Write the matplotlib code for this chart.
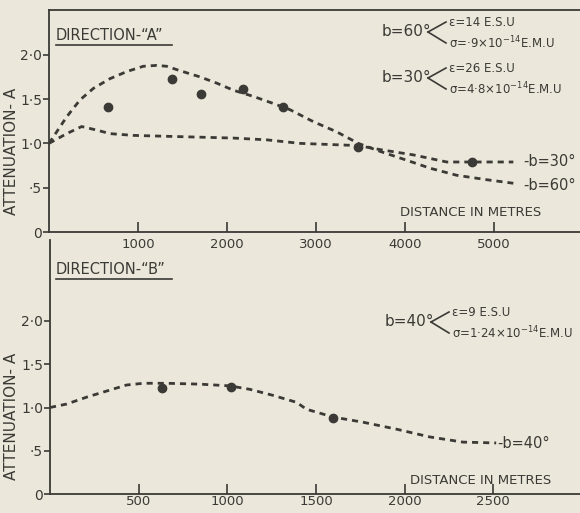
import matplotlib
matplotlib.use("Agg")
import matplotlib.pyplot as plt

plt.rcParams['font.family'] = ['DejaVu Sans']
plt.rcParams['mathtext.default'] = 'regular'

# direction A, b = 60 deg curve
a60_x = [0, 199, 348, 498, 685, 873, 1060, 1210, 1322, 1472, 1697, 1884, 2071, 2296,
         2521, 2708, 2970, 3233, 3475, 3719, 4019, 4281, 4581, 4918, 5217]
a60_y = [1.0, 1.30, 1.49, 1.62, 1.73, 1.81, 1.87, 1.88, 1.87, 1.82, 1.75, 1.68, 1.60, 1.53,
         1.45, 1.38, 1.245, 1.13, 1.0, 0.91, 0.81, 0.72, 0.64, 0.59, 0.55]
# direction A, b = 30 deg curve
a30_x = [0, 199, 367, 536, 685, 948, 1322, 1697, 2071, 2446, 2820, 3475, 3719, 4094,
         4469, 4750, 5217]
a30_y = [1.0, 1.11, 1.19, 1.15, 1.11, 1.09, 1.08, 1.07, 1.06, 1.04, 1.0, 0.975, 0.93, 0.87,
         0.79, 0.79, 0.79]
# measured points, direction A
a_obs_x = [663, 1382, 1708, 2180, 2630, 3472, 4753]
a_obs_y = [1.41, 1.73, 1.56, 1.61, 1.41, 0.96, 0.79]

# direction B, b = 40 deg curve
b40_x = [0, 94, 207, 319, 432, 526, 657, 845, 1014, 1127, 1258, 1390, 1446, 1596,
         1765, 1953, 2141, 2328, 2516]
b40_y = [1.0, 1.04, 1.12, 1.19, 1.26, 1.28, 1.28, 1.27, 1.25, 1.21, 1.14, 1.06, 0.98, 0.89,
         0.83, 0.75, 0.66, 0.60, 0.59]
b_obs_x = [629, 1018, 1596]
b_obs_y = [1.23, 1.24, 0.88]

a_xticks = [1000, 2000, 3000, 4000, 5000]
b_xticks = [500, 1000, 1500, 2000, 2500]
b_xlabels = ['500', '1000', '1500', '2000', '2500']
yticks = [0, 0.5, 1.0, 1.5, 2.0]
ylabels = ['0', '·5', '1·0', '1·5', '2·0']

BG = '#ebe7da'
INK = '#3b3a36'
W, H = 580, 513

fig = plt.figure(figsize=(5.8, 5.13), dpi=100, facecolor=BG)


def px(x, y):
    return x / W, 1 - y / H


def style(ax, xt, xl, xpad):
    ax.patch.set_alpha(0)
    ax.spines['right'].set_visible(False)
    for s in ('left', 'bottom', 'top'):
        ax.spines[s].set_color(INK)
        ax.spines[s].set_linewidth(1.3)
    ax.set_xticks(xt)
    ax.set_xticklabels(xl, fontsize=9.5, color=INK)
    ax.set_yticks(yticks)
    ax.set_yticklabels(ylabels, fontsize=10, color=INK)
    ax.tick_params(axis='x', direction='in', length=7, width=1.2, color=INK, pad=xpad)
    ax.tick_params(axis='y', direction='out', length=4, width=1.2, color=INK, pad=1)


dash = (0, (2.2, 1.8))

# bottom panel (added first so the top panel's tick labels sit above it)
ax2 = fig.add_axes([50 / W, (H - 494) / H, 532 / W, 254 / H])
ax2.set_xlim(0, 3000)
ax2.set_ylim(0, 254 / 86.5)
style(ax2, b_xticks, b_xlabels, 1)
ax2.spines['top'].set_visible(False)
ax2.plot(b40_x, b40_y, ls=dash, color=INK, lw=2)
ax2.plot(b_obs_x, b_obs_y, 'o', color=INK, ms=6)

# top panel
ax1 = fig.add_axes([49 / W, (H - 232) / H, 534 / W, 222 / H])
ax1.set_xlim(0, 6000)
ax1.set_ylim(0, 2.505)
style(ax1, a_xticks, [str(v) for v in a_xticks], 4)
ax1.plot(a60_x, a60_y, ls=dash, color=INK, lw=2)
ax1.plot(a30_x, a30_y, ls=dash, color=INK, lw=2)
ax1.plot(a_obs_x, a_obs_y, 'o', color=INK, ms=6)

# titles, axis labels
for y, t in [(36, 'DIRECTION-\u201cA\u201d'), (270, 'DIRECTION-\u201cB\u201d')]:
    fig.text(*px(56, y), t, fontsize=10.5, color=INK, va='center', ha='left')
    fig.lines.append(plt.Line2D([56 / W, 172 / W], [1 - (y + 9) / H] * 2,
                                transform=fig.transFigure, color=INK, lw=1.2))
fig.text(*px(12, 151), 'ATTENUATION- A', rotation=90, fontsize=11, color=INK,
         ha='center', va='center')
fig.text(*px(12, 416), 'ATTENUATION- A', rotation=90, fontsize=11, color=INK,
         ha='center', va='center')
fig.text(*px(400, 212), 'DISTANCE IN METRES', fontsize=9.5, color=INK, va='center')
fig.text(*px(410, 481), 'DISTANCE IN METRES', fontsize=9.5, color=INK, va='center')

# curve labels
fig.text(*px(576, 162), '-b=30°', fontsize=10.5, color=INK, va='center', ha='right')
fig.text(*px(576, 186), '-b=60°', fontsize=10.5, color=INK, va='center', ha='right')
fig.text(*px(550, 444), '-b=40°', fontsize=10.5, color=INK, va='center', ha='right')


def bracket(x, y, name, eps, sig):
    fig.text(*px(x, y), name, fontsize=11, color=INK, va='center', ha='left')
    x0 = x + 46
    for dy in (-10, 11):
        fig.lines.append(plt.Line2D([x0 / W, (x0 + 18) / W], [1 - y / H, 1 - (y + dy) / H],
                                    transform=fig.transFigure, color=INK, lw=1.2))
    fig.text(*px(x0 + 21, y - 9), eps, fontsize=8.5, color=INK, va='center')
    fig.text(*px(x0 + 21, y + 11), sig, fontsize=8.5, color=INK, va='center')


bracket(382, 32, 'b=60°', 'ε=14 E.S.U', 'σ=·9×10$^{-14}$E.M.U')
bracket(382, 78, 'b=30°', 'ε=26 E.S.U', 'σ=4·8×10$^{-14}$E.M.U')
bracket(385, 322, 'b=40°', 'ε=9 E.S.U', 'σ=1·24×10$^{-14}$E.M.U')

fig.savefig('out.png', dpi=100, facecolor=BG)
